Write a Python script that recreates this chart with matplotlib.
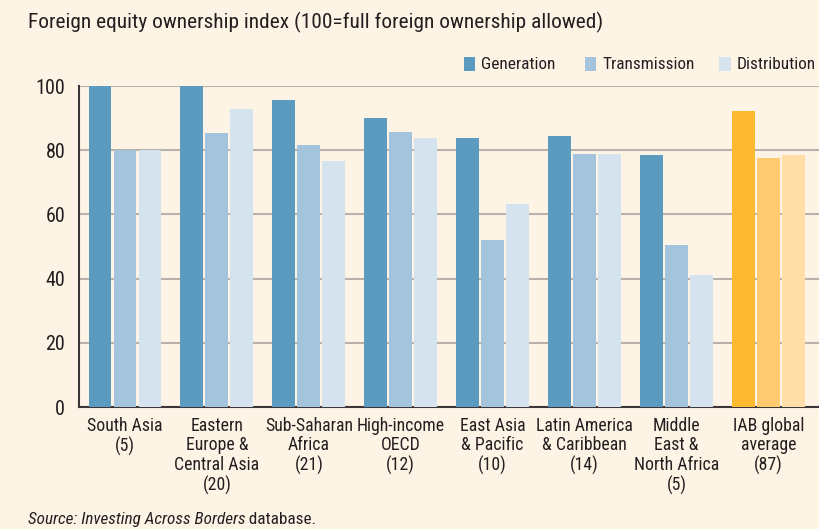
import numpy as np
import matplotlib
matplotlib.use("Agg")
import matplotlib.pyplot as plt
from matplotlib.patches import Rectangle

plt.rcParams['font.family'] = ['Roboto Condensed', 'DejaVu Sans']

# data
regions = ["South Asia\n(5)", "Eastern\nEurope &\nCentral Asia\n(20)", "Sub-Saharan\nAfrica\n(21)",
           "High-income\nOECD\n(12)", "East Asia\n& Pacific\n(10)", "Latin America\n& Caribbean\n(14)",
           "Middle\nEast &\nNorth Africa\n(5)", "IAB global\naverage\n(87)"]
generation = [100, 100, 95.6, 90, 83.8, 84.4, 78.5, 92.2]
transmission = [80, 85.4, 81.6, 85.7, 52, 78.8, 50.5, 77.6]
distribution = [80, 92.8, 76.6, 83.8, 63.2, 78.8, 41.1, 78.5]
yticks = [0, 20, 40, 60, 80, 100]

blue = ["#5A9BBF", "#A3C4DC", "#D4E3EE"]
orange = ["#FDBA31", "#FFCB70", "#FFDEA8"]
bg = "#FEF4E6"
ink = "#231F20"

fig = plt.figure(figsize=(8.19, 5.29), dpi=100, facecolor=bg)
ax = fig.add_axes([0.0965, 0.2306, 0.9035, 0.6068], facecolor=bg)

x = np.arange(len(regions))
w = 0.25
for i, vals in enumerate([generation, transmission, distribution]):
    cols = [blue[i]] * (len(regions) - 1) + [orange[i]]
    ax.bar(x + (i - 1) * (w + 0.022), vals, width=w, color=cols, zorder=3)

ax.set_xlim(-0.5, 7.55)
ax.set_ylim(0, 100)
ax.set_yticks(yticks)
ax.set_yticklabels([str(t) for t in yticks], fontsize=14.5, color=ink)
ax.yaxis.grid(True, color="#B7B2AC", linewidth=1.5, zorder=0)
ax.set_xticks(x)
ax.set_xticklabels(regions, fontsize=12.8, color=ink, linespacing=1.12, va="top")
ax.tick_params(axis="both", length=0)
ax.tick_params(axis="y", pad=10)
ax.tick_params(axis="x", pad=7)
for s in ["top", "right"]:
    ax.spines[s].set_visible(False)
for s in ["left", "bottom"]:
    ax.spines[s].set_color("#3A3536")
    ax.spines[s].set_linewidth(1.5)

fig.text(0.034, 0.957, "Foreign equity ownership index (100=full foreign ownership allowed)",
         fontsize=15.4, color=ink, va="center")

# legend
labels = ["Generation", "Transmission", "Distribution"]
lx = [0.5665, 0.7145, 0.8785]
for i in range(3):
    fig.patches.append(Rectangle((lx[i], 0.865), 0.0135, 0.027, transform=fig.transFigure,
                                 facecolor=blue[i], edgecolor="none"))
    fig.text(lx[i] + 0.021, 0.878, labels[i], fontsize=12.4, color=ink, va="center")

src = fig.text(0.034, 0.018, "Source: Investing Across Borders", fontsize=12.3, style="italic",
               color=ink, va="center")
fig.canvas.draw()
bb = src.get_window_extent().transformed(fig.transFigure.inverted())
fig.text(bb.x1, 0.018, " database.", fontsize=12.3, color=ink, va="center")

fig.savefig("out.png", dpi=100, facecolor=bg)
